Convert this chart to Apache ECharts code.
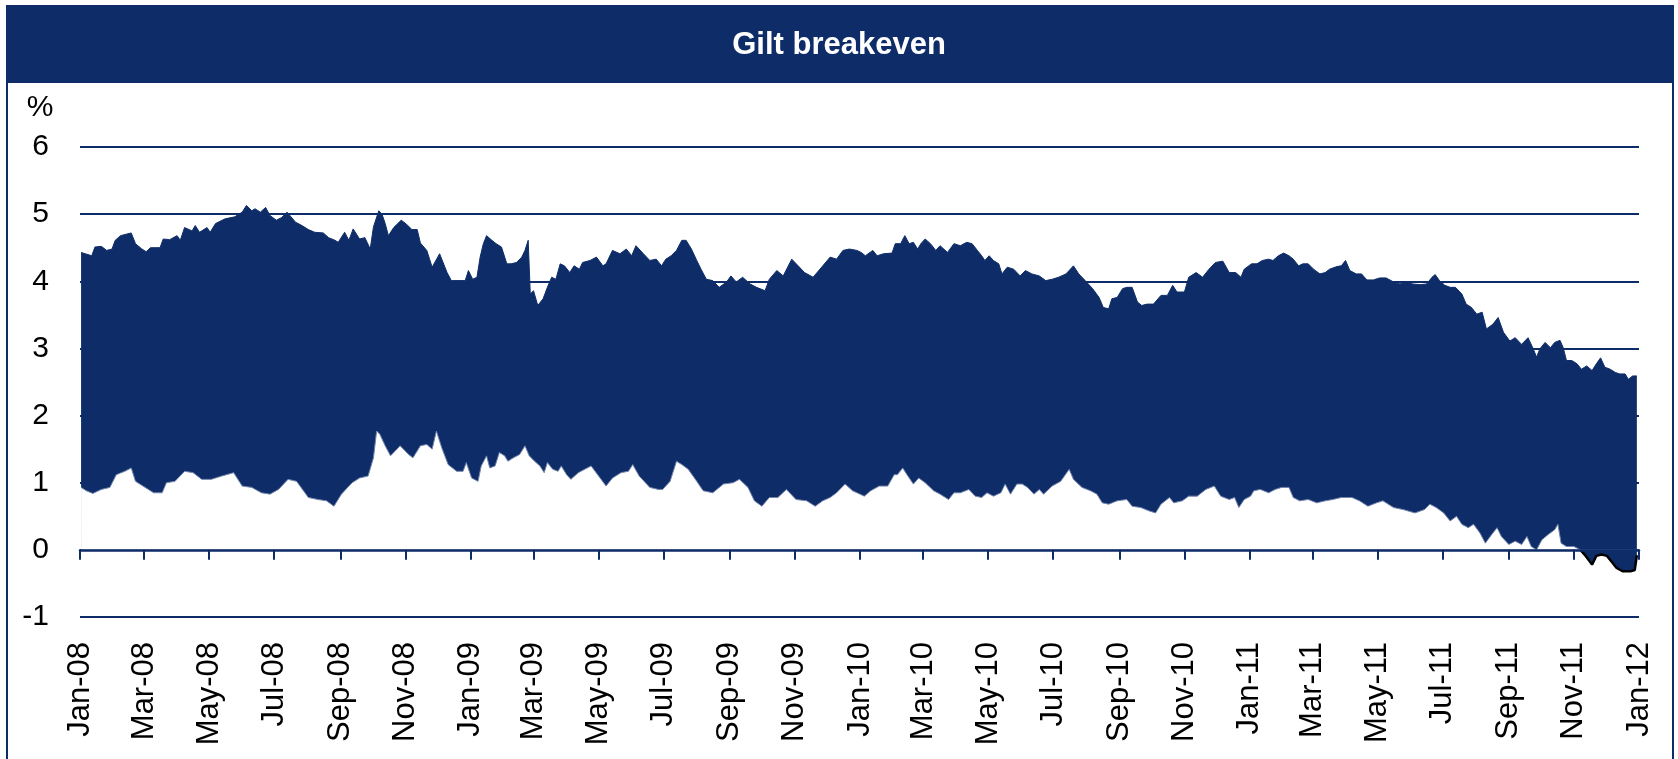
<!DOCTYPE html>
<html>
<head>
<meta charset="utf-8">
<title>Gilt breakeven</title>
<script src="https://cdn.jsdelivr.net/npm/echarts@6.0.0/dist/echarts.min.js"></script>
<style>
  html, body { margin: 0; padding: 0; background: #fff; }
  #chart { width: 1678px; height: 759px; }
</style>
</head>
<body>
<div id="chart"></div>
<script>
// colours / fonts
const navy = '#0e2d68';
const font = 'Liberation Sans, Arial, sans-serif';

// x axis ticks, every two months
const tickDates = [
  '2008-01-01', '2008-03-01', '2008-05-01', '2008-07-01', '2008-09-01', '2008-11-01',
  '2009-01-01', '2009-03-01', '2009-05-01', '2009-07-01', '2009-09-01', '2009-11-01',
  '2010-01-01', '2010-03-01', '2010-05-01', '2010-07-01', '2010-09-01', '2010-11-01',
  '2011-01-01', '2011-03-01', '2011-05-01', '2011-07-01', '2011-09-01', '2011-11-01',
  '2012-01-01'
];
const tickLabels = [
  'Jan-08', 'Mar-08', 'May-08', 'Jul-08', 'Sep-08', 'Nov-08',
  'Jan-09', 'Mar-09', 'May-09', 'Jul-09', 'Sep-09', 'Nov-09',
  'Jan-10', 'Mar-10', 'May-10', 'Jul-10', 'Sep-10', 'Nov-10',
  'Jan-11', 'Mar-11', 'May-11', 'Jul-11', 'Sep-11', 'Nov-11',
  'Jan-12'
];

// upper edge of the band, %
const upperLine = [
  ['2008-01-02', 4.43], ['2008-01-06', 4.41], ['2008-01-12', 4.38], ['2008-01-15', 4.51], ['2008-01-21', 4.52], ['2008-01-26', 4.46], ['2008-01-31', 4.48],
  ['2008-02-03', 4.61], ['2008-02-08', 4.68], ['2008-02-18', 4.72], ['2008-02-22', 4.56], ['2008-02-28', 4.48],
  ['2008-03-03', 4.44], ['2008-03-07', 4.50], ['2008-03-16', 4.50], ['2008-03-19', 4.63], ['2008-03-25', 4.62],
  ['2008-04-01', 4.68], ['2008-04-04', 4.61], ['2008-04-08', 4.80], ['2008-04-15', 4.75], ['2008-04-18', 4.83], ['2008-04-22', 4.73], ['2008-04-29', 4.80],
  ['2008-05-02', 4.73], ['2008-05-07', 4.86], ['2008-05-16', 4.93], ['2008-05-25', 4.96],
  ['2008-06-01', 5.03], ['2008-06-05', 5.13], ['2008-06-10', 5.05], ['2008-06-13', 5.08], ['2008-06-18', 5.03], ['2008-06-23', 5.10], ['2008-06-27', 4.98],
  ['2008-07-03', 4.91], ['2008-07-08', 4.95], ['2008-07-13', 5.03], ['2008-07-21', 4.88], ['2008-07-27', 4.83],
  ['2008-08-02', 4.77], ['2008-08-08', 4.73], ['2008-08-16', 4.72], ['2008-08-21', 4.65], ['2008-08-27', 4.61], ['2008-08-30', 4.58],
  ['2008-09-05', 4.73], ['2008-09-09', 4.61], ['2008-09-13', 4.78], ['2008-09-19', 4.63], ['2008-09-24', 4.65], ['2008-09-29', 4.48],
  ['2008-10-02', 4.81], ['2008-10-07', 5.05], ['2008-10-10', 5.00], ['2008-10-13', 4.86], ['2008-10-16', 4.68], ['2008-10-21', 4.80], ['2008-10-28', 4.91],
  ['2008-11-02', 4.85], ['2008-11-07', 4.77], ['2008-11-12', 4.77], ['2008-11-15', 4.57], ['2008-11-21', 4.46], ['2008-11-26', 4.21],
  ['2008-12-03', 4.41], ['2008-12-10', 4.13], ['2008-12-14', 4.01], ['2008-12-27', 4.01], ['2008-12-30', 4.16],
  ['2009-01-03', 4.03], ['2009-01-07', 4.06], ['2009-01-10', 4.36], ['2009-01-13', 4.56], ['2009-01-16', 4.68], ['2009-01-21', 4.61], ['2009-01-25', 4.56], ['2009-01-30', 4.51],
  ['2009-02-04', 4.26], ['2009-02-08', 4.26], ['2009-02-13', 4.28], ['2009-02-18', 4.36], ['2009-02-21', 4.46], ['2009-02-24', 4.61], ['2009-02-26', 3.81],
  ['2009-03-01', 3.86], ['2009-03-05', 3.64], ['2009-03-10', 3.74], ['2009-03-14', 3.91], ['2009-03-18', 4.06], ['2009-03-22', 4.03], ['2009-03-26', 4.26], ['2009-03-30', 4.23],
  ['2009-04-04', 4.13], ['2009-04-08', 4.23], ['2009-04-13', 4.18], ['2009-04-16', 4.28], ['2009-04-23', 4.31], ['2009-04-29', 4.36],
  ['2009-05-05', 4.23], ['2009-05-08', 4.26], ['2009-05-14', 4.46], ['2009-05-21', 4.41], ['2009-05-27', 4.48],
  ['2009-06-01', 4.38], ['2009-06-05', 4.53], ['2009-06-12', 4.41], ['2009-06-18', 4.31], ['2009-06-24', 4.33], ['2009-06-29', 4.23],
  ['2009-07-03', 4.33], ['2009-07-08', 4.38], ['2009-07-13', 4.46], ['2009-07-18', 4.61], ['2009-07-22', 4.61], ['2009-07-27', 4.48],
  ['2009-08-01', 4.31], ['2009-08-05', 4.18], ['2009-08-10', 4.03], ['2009-08-16', 4.01], ['2009-08-22', 3.91], ['2009-08-29', 3.99],
  ['2009-09-02', 4.08], ['2009-09-07', 3.99], ['2009-09-13', 4.06], ['2009-09-20', 3.96], ['2009-09-26', 3.91],
  ['2009-10-04', 3.86], ['2009-10-08', 4.03], ['2009-10-15', 4.16], ['2009-10-21', 4.08], ['2009-10-29', 4.33],
  ['2009-11-04', 4.23], ['2009-11-10', 4.13], ['2009-11-18', 4.06], ['2009-11-26', 4.21],
  ['2009-12-04', 4.36], ['2009-12-10', 4.33], ['2009-12-16', 4.46], ['2009-12-22', 4.48], ['2009-12-29', 4.46],
  ['2010-01-02', 4.43], ['2010-01-06', 4.38], ['2010-01-13', 4.46], ['2010-01-17', 4.38], ['2010-01-23', 4.41], ['2010-01-31', 4.42],
  ['2010-02-03', 4.56], ['2010-02-08', 4.56], ['2010-02-12', 4.68], ['2010-02-16', 4.56], ['2010-02-20', 4.58], ['2010-02-24', 4.48], ['2010-02-27', 4.56],
  ['2010-03-03', 4.63], ['2010-03-08', 4.56], ['2010-03-13', 4.46], ['2010-03-17', 4.53], ['2010-03-24', 4.43], ['2010-03-30', 4.56],
  ['2010-04-05', 4.53], ['2010-04-11', 4.58], ['2010-04-16', 4.56], ['2010-04-21', 4.46], ['2010-04-25', 4.38], ['2010-04-28', 4.31],
  ['2010-05-02', 4.38], ['2010-05-06', 4.31], ['2010-05-11', 4.26], ['2010-05-14', 4.11], ['2010-05-19', 4.21], ['2010-05-25', 4.18], ['2010-05-31', 4.08],
  ['2010-06-05', 4.16], ['2010-06-11', 4.11], ['2010-06-18', 4.08], ['2010-06-24', 4.01], ['2010-06-30', 4.03],
  ['2010-07-06', 4.06], ['2010-07-13', 4.11], ['2010-07-20', 4.23], ['2010-07-25', 4.11], ['2010-07-31', 4.01],
  ['2010-08-07', 3.89], ['2010-08-13', 3.76], ['2010-08-17', 3.61], ['2010-08-22', 3.59], ['2010-08-25', 3.74], ['2010-08-30', 3.76],
  ['2010-09-04', 3.89], ['2010-09-08', 3.91], ['2010-09-13', 3.91], ['2010-09-18', 3.69], ['2010-09-22', 3.64], ['2010-09-27', 3.66],
  ['2010-10-03', 3.66], ['2010-10-10', 3.79], ['2010-10-16', 3.79], ['2010-10-21', 3.94], ['2010-10-25', 3.84],
  ['2010-11-01', 3.84], ['2010-11-05', 4.06], ['2010-11-12', 4.13], ['2010-11-18', 4.06], ['2010-11-24', 4.18], ['2010-11-30', 4.28],
  ['2010-12-07', 4.30], ['2010-12-13', 4.13], ['2010-12-19', 4.13], ['2010-12-24', 4.06], ['2010-12-27', 4.18],
  ['2011-01-03', 4.26], ['2011-01-08', 4.26], ['2011-01-13', 4.31], ['2011-01-19', 4.33], ['2011-01-23', 4.31], ['2011-01-28', 4.38],
  ['2011-02-02', 4.42], ['2011-02-07', 4.38], ['2011-02-11', 4.33], ['2011-02-16', 4.23], ['2011-02-20', 4.26], ['2011-02-25', 4.26],
  ['2011-03-02', 4.18], ['2011-03-08', 4.11], ['2011-03-13', 4.13], ['2011-03-17', 4.18], ['2011-03-24', 4.22], ['2011-03-28', 4.23],
  ['2011-04-01', 4.31], ['2011-04-05', 4.16], ['2011-04-11', 4.11], ['2011-04-16', 4.11], ['2011-04-21', 4.02], ['2011-04-27', 4.02],
  ['2011-05-03', 4.05], ['2011-05-09', 4.05], ['2011-05-16', 3.99], ['2011-05-22', 3.96], ['2011-05-28', 3.99],
  ['2011-06-03', 3.96], ['2011-06-10', 3.95], ['2011-06-16', 3.96], ['2011-06-21', 4.06], ['2011-06-24', 4.10], ['2011-06-28', 4.01],
  ['2011-07-03', 3.94], ['2011-07-08', 3.91], ['2011-07-13', 3.91], ['2011-07-19', 3.81], ['2011-07-23', 3.66], ['2011-07-28', 3.61],
  ['2011-08-02', 3.51], ['2011-08-07', 3.54], ['2011-08-11', 3.29], ['2011-08-17', 3.36], ['2011-08-22', 3.46], ['2011-08-27', 3.24],
  ['2011-09-02', 3.11], ['2011-09-07', 3.16], ['2011-09-13', 3.06], ['2011-09-19', 3.16], ['2011-09-24', 2.99], ['2011-09-27', 2.87], ['2011-09-30', 2.99],
  ['2011-10-05', 3.09], ['2011-10-10', 3.01], ['2011-10-14', 3.09], ['2011-10-19', 3.12], ['2011-10-22', 3.01], ['2011-10-25', 2.82], ['2011-10-30', 2.82],
  ['2011-11-04', 2.77], ['2011-11-08', 2.69], ['2011-11-13', 2.74], ['2011-11-18', 2.67], ['2011-11-22', 2.77], ['2011-11-26', 2.86], ['2011-11-30', 2.72],
  ['2011-12-05', 2.69], ['2011-12-10', 2.64], ['2011-12-14', 2.62], ['2011-12-19', 2.62], ['2011-12-22', 2.54], ['2011-12-26', 2.59], ['2011-12-30', 2.59]
];

// lower edge of the band, %
const lowerLine = [
  ['2008-01-02', 0.93], ['2008-01-07', 0.88], ['2008-01-13', 0.84], ['2008-01-21', 0.90], ['2008-01-29', 0.93],
  ['2008-02-04', 1.12], ['2008-02-12', 1.17], ['2008-02-18', 1.22], ['2008-02-22', 1.02], ['2008-02-29', 0.95],
  ['2008-03-10', 0.85], ['2008-03-18', 0.85], ['2008-03-22', 1.00], ['2008-03-30', 1.02],
  ['2008-04-08', 1.17], ['2008-04-16', 1.15], ['2008-04-24', 1.05],
  ['2008-05-03', 1.05], ['2008-05-13', 1.10], ['2008-05-24', 1.15],
  ['2008-06-01', 0.95], ['2008-06-10', 0.93], ['2008-06-19', 0.85], ['2008-06-27', 0.83],
  ['2008-07-05', 0.90], ['2008-07-14', 1.05], ['2008-07-22', 1.02],
  ['2008-08-02', 0.78], ['2008-08-11', 0.75], ['2008-08-19', 0.73], ['2008-08-26', 0.65],
  ['2008-09-02', 0.83], ['2008-09-12', 1.00], ['2008-09-19', 1.07], ['2008-09-27', 1.10],
  ['2008-10-02', 1.37], ['2008-10-05', 1.77], ['2008-10-08', 1.72], ['2008-10-13', 1.55], ['2008-10-18', 1.40], ['2008-10-27', 1.55],
  ['2008-11-04', 1.42], ['2008-11-08', 1.37], ['2008-11-15', 1.55], ['2008-11-21', 1.57], ['2008-11-26', 1.50], ['2008-11-30', 1.77],
  ['2008-12-05', 1.52], ['2008-12-11', 1.27], ['2008-12-19', 1.17], ['2008-12-25', 1.17], ['2008-12-28', 1.30],
  ['2009-01-02', 1.07], ['2009-01-08', 1.02], ['2009-01-11', 1.25], ['2009-01-16', 1.40], ['2009-01-19', 1.22], ['2009-01-24', 1.25], ['2009-01-28', 1.45],
  ['2009-02-02', 1.40], ['2009-02-05', 1.32], ['2009-02-10', 1.37], ['2009-02-16', 1.42], ['2009-02-21', 1.55], ['2009-02-25', 1.40],
  ['2009-03-02', 1.32], ['2009-03-07', 1.25], ['2009-03-11', 1.15], ['2009-03-14', 1.30], ['2009-03-19', 1.20], ['2009-03-24', 1.17], ['2009-03-27', 1.25],
  ['2009-04-01', 1.12], ['2009-04-05', 1.05], ['2009-04-12', 1.15], ['2009-04-18', 1.20], ['2009-04-24', 1.25],
  ['2009-05-01', 1.10], ['2009-05-08', 0.95], ['2009-05-14', 1.07], ['2009-05-22', 1.15], ['2009-05-29', 1.17],
  ['2009-06-02', 1.27], ['2009-06-08', 1.10], ['2009-06-18', 0.93], ['2009-06-26', 0.90], ['2009-06-30', 0.90],
  ['2009-07-07', 1.02], ['2009-07-13', 1.32], ['2009-07-18', 1.27], ['2009-07-24', 1.20],
  ['2009-08-01', 1.02], ['2009-08-07', 0.88], ['2009-08-16', 0.85], ['2009-08-26', 0.98],
  ['2009-09-04', 1.00], ['2009-09-10', 1.05], ['2009-09-18', 0.93], ['2009-09-24', 0.73],
  ['2009-10-01', 0.65], ['2009-10-08', 0.78], ['2009-10-16', 0.78], ['2009-10-24', 0.90],
  ['2009-11-02', 0.75], ['2009-11-12', 0.73], ['2009-11-20', 0.65], ['2009-11-27', 0.73],
  ['2009-12-04', 0.78], ['2009-12-10', 0.85], ['2009-12-18', 0.98], ['2009-12-25', 0.88],
  ['2010-01-01', 0.83], ['2010-01-05', 0.80], ['2010-01-11', 0.88], ['2010-01-19', 0.95], ['2010-01-27', 0.95],
  ['2010-02-02', 1.12], ['2010-02-05', 1.12], ['2010-02-10', 1.22], ['2010-02-14', 1.12], ['2010-02-20', 0.98], ['2010-02-25', 1.07],
  ['2010-03-03', 1.00], ['2010-03-11', 0.88], ['2010-03-17', 0.83], ['2010-03-25', 0.75], ['2010-03-30', 0.85],
  ['2010-04-05', 0.85], ['2010-04-13', 0.90], ['2010-04-19', 0.80], ['2010-04-25', 0.78], ['2010-04-30', 0.85],
  ['2010-05-06', 0.80], ['2010-05-13', 0.85], ['2010-05-17', 0.98], ['2010-05-22', 0.83], ['2010-05-28', 0.98],
  ['2010-06-02', 0.98], ['2010-06-07', 0.93], ['2010-06-13', 0.83], ['2010-06-18', 0.90], ['2010-06-22', 0.83], ['2010-06-30', 0.95],
  ['2010-07-08', 1.02], ['2010-07-16', 1.20], ['2010-07-20', 1.05], ['2010-07-28', 0.93],
  ['2010-08-05', 0.88], ['2010-08-11', 0.83], ['2010-08-16', 0.70], ['2010-08-22', 0.68], ['2010-08-30', 0.73],
  ['2010-09-08', 0.75], ['2010-09-13', 0.65], ['2010-09-21', 0.63], ['2010-09-29', 0.58],
  ['2010-10-05', 0.55], ['2010-10-10', 0.68], ['2010-10-18', 0.78], ['2010-10-22', 0.70], ['2010-10-30', 0.73],
  ['2010-11-05', 0.80], ['2010-11-13', 0.80], ['2010-11-21', 0.90], ['2010-11-29', 0.95],
  ['2010-12-05', 0.80], ['2010-12-13', 0.75], ['2010-12-18', 0.78], ['2010-12-22', 0.63], ['2010-12-27', 0.75],
  ['2011-01-02', 0.80], ['2011-01-05', 0.88], ['2011-01-11', 0.90], ['2011-01-19', 0.85], ['2011-01-25', 0.90], ['2011-01-31', 0.93],
  ['2011-02-07', 0.93], ['2011-02-11', 0.78], ['2011-02-17', 0.73], ['2011-02-25', 0.75],
  ['2011-03-05', 0.70], ['2011-03-13', 0.73], ['2011-03-20', 0.75], ['2011-03-28', 0.78],
  ['2011-04-07', 0.78], ['2011-04-14', 0.73], ['2011-04-22', 0.65], ['2011-04-30', 0.70],
  ['2011-05-06', 0.73], ['2011-05-16', 0.63], ['2011-05-25', 0.60],
  ['2011-06-05', 0.55], ['2011-06-14', 0.60], ['2011-06-19', 0.68], ['2011-06-25', 0.63],
  ['2011-07-02', 0.55], ['2011-07-08', 0.43], ['2011-07-14', 0.50], ['2011-07-19', 0.38], ['2011-07-25', 0.33], ['2011-07-30', 0.38],
  ['2011-08-05', 0.25], ['2011-08-10', 0.10], ['2011-08-16', 0.23], ['2011-08-21', 0.33], ['2011-08-25', 0.20],
  ['2011-09-01', 0.08], ['2011-09-07', 0.13], ['2011-09-13', 0.08], ['2011-09-18', 0.20], ['2011-09-22', 0.05], ['2011-09-27', 0.00],
  ['2011-10-02', 0.15], ['2011-10-08', 0.23], ['2011-10-14', 0.30], ['2011-10-17', 0.38], ['2011-10-20', 0.10], ['2011-10-25', 0.05],
  ['2011-11-01', 0.05], ['2011-11-07', 0.00], ['2011-11-11', -0.07], ['2011-11-18', -0.22], ['2011-11-22', -0.09], ['2011-11-27', -0.07],
  ['2011-12-02', -0.09], ['2011-12-06', -0.17], ['2011-12-11', -0.27], ['2011-12-17', -0.32], ['2011-12-24', -0.32], ['2011-12-28', -0.30], ['2011-12-30', -0.08]
];

const toTime = (d) => echarts.time.parse(d).getTime();
const tickTimes = tickDates.map(toTime);
const xMin = toTime('2008-01-01');
const xMax = toTime('2012-01-01');
const upperData = upperLine.map(([d, v]) => [toTime(d), v]);
const lowerData = lowerLine.map(([d, v]) => [toTime(d), v]);

const chart = echarts.init(document.getElementById('chart'));

const option = {
  animation: false,
  title: {
    text: 'Gilt breakeven',
    left: 'center',
    top: 30,
    padding: 0,
    textStyle: { color: '#fff', fontWeight: 'bold', fontSize: 31, fontFamily: font }
  },
  graphic: [
    { type: 'rect', z: -1, shape: { x: 7, y: 6, width: 1667, height: 77 }, style: { fill: navy } },
    { type: 'rect', z: -1, shape: { x: 7, y: 6, width: 1666, height: 800 }, style: { fill: 'none', stroke: navy, lineWidth: 2 } },
    { type: 'text', x: 40, y: 108, style: { text: '%', fontSize: 30, fontFamily: font, fill: '#000', align: 'center', verticalAlign: 'middle' } }
  ],
  grid: { left: 80, right: 39, top: 147, bottom: 142, outerBoundsMode: 'none' },
  xAxis: [
    {
      // labels under the -1 line
      type: 'value',
      position: 'bottom',
      min: xMin,
      max: xMax,
      axisLine: { show: false, onZero: false },
      axisTick: { show: false },
      splitLine: { show: false },
      axisLabel: {
        customValues: tickTimes,
        formatter: (val) => {
          const i = tickTimes.indexOf(val);
          return i >= 0 ? tickLabels[i] : '';
        },
        rotate: 90,
        margin: 25,
        fontSize: 31,
        fontFamily: font,
        color: '#000',
        hideOverlap: false
      }
    },
    {
      // zero line with ticks
      type: 'value',
      position: 'top',
      min: xMin,
      max: xMax,
      z: 10,
      axisLine: { onZero: true, lineStyle: { color: navy, width: 2.5 } },
      axisTick: { customValues: tickTimes, inside: true, length: 10, lineStyle: { color: navy, width: 2 } },
      axisLabel: { show: false },
      splitLine: { show: false }
    }
  ],
  yAxis: {
    type: 'value',
    min: -1,
    max: 6,
    interval: 1,
    axisLine: { show: false },
    axisTick: { show: false },
    axisLabel: { color: '#000', fontSize: 30, fontFamily: font, margin: 31 },
    splitLine: { lineStyle: { color: navy, width: 2 } }
  },
  // below zero the lower edge is filled navy and outlined black
  visualMap: [
    {
      type: 'piecewise', show: false, seriesIndex: 1, dimension: 1,
      pieces: [{ gte: -5, lt: 0, color: navy }, { gte: 0, lte: 10, color: '#ffffff' }]
    },
    {
      type: 'piecewise', show: false, seriesIndex: 3, dimension: 1,
      pieces: [{ gte: -5, lt: 0, color: '#000000' }, { gte: 0, lte: 10, color: 'rgba(0,0,0,0)' }]
    }
  ],
  series: [
    {
      name: 'upper',
      type: 'line',
      data: upperData,
      showSymbol: false,
      lineStyle: { color: navy, width: 1 },
      areaStyle: { color: navy, opacity: 1 },
      z: 2
    },
    {
      name: 'lower fill',
      type: 'line',
      data: lowerData,
      showSymbol: false,
      lineStyle: { opacity: 0 },
      areaStyle: { opacity: 1 },
      z: 3
    },
    {
      name: 'lower edge',
      type: 'line',
      data: lowerData,
      showSymbol: false,
      lineStyle: { color: '#7384ab', width: 1 },
      z: 4
    },
    {
      name: 'lower below zero',
      type: 'line',
      data: lowerData,
      showSymbol: false,
      lineStyle: { width: 2.5 },
      z: 5
    }
  ]
};

chart.setOption(option);
</script>
</body>
</html>
